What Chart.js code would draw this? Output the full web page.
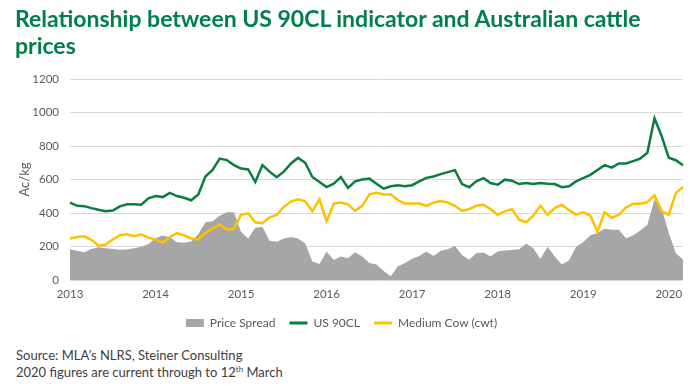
<!DOCTYPE html>
<html>
<head>
<meta charset="utf-8">
<script src="https://cdn.jsdelivr.net/npm/chart.js@4.4.1/dist/chart.umd.min.js"></script>
<style>
  html, body { margin: 0; padding: 0; background: #ffffff; }
  #wrap { position: relative; width: 700px; height: 390px; overflow: hidden; background:#fff; }
  #title { position: absolute; left: 15px; top: 5px; font-family: "Lato", "Liberation Sans", sans-serif; font-weight: bold; font-size: 23px; line-height: 27px; color: #00804A; white-space: nowrap; }
  #chartBox { position: absolute; left: 0; top: 0; width: 700px; height: 345px; }
  #source { position: absolute; left: 16px; top: 347px; font-family: "Lato", "Liberation Sans", sans-serif; font-size: 13px; line-height: 17px; color: #404040; }
  #source sup { font-size: 8px; line-height: 0; }
</style>
</head>
<body>
<div id="wrap">
  <div id="chartBox"><canvas id="c" width="700" height="345"></canvas></div>
  <div id="title">Relationship between US 90CL indicator and Australian cattle<br>prices</div>
  <div id="source">Source: MLA’s NLRS, Steiner Consulting<br>2020 figures are current through to 12<sup>th</sup> March</div>
</div>
<script>
// ---- data (monthly, Jan 2013 – Mar 2020), Ac/kg ----
const years = ['2013','2014','2015','2016','2017','2018','2019','2020'];
const monthsPerYear = ['01','02','03','04','05','06','07','08','09','10','11','12'];
const seriesNames = ['Price Spread', 'US 90CL', 'Medium Cow (cwt)'];

const priceSpread = [
  183,175,165,185,195,190,185,180,182,190,198,215,
  250,265,255,225,222,230,273,345,351,384,404,404,
  287,248,312,316,234,228,248,257,248,218,110,95,
  170,120,140,130,165,140,101,92,53,23,82,101,
  127,144,170,144,174,183,203,150,121,160,164,140,
  170,176,179,183,218,189,125,199,140,92,117,199,
  225,267,281,306,300,300,250,265,295,330,480,430,
  280,160,122
];
const us90CL = [
  462,443,441,429,419,410,415,440,452,452,450,487,
  501,495,520,501,491,476,511,618,657,725,716,686,
  665,660,585,686,647,614,647,696,729,700,615,585,
  555,575,614,550,589,600,605,575,545,560,566,560,
  566,589,610,618,632,644,655,573,554,589,608,579,
  569,599,593,573,579,573,579,575,573,554,560,589,
  608,628,657,686,671,696,696,710,725,760,965,860,
  730,715,685
];
const mediumCow = [
  248,257,261,240,205,212,242,267,273,261,273,253,
  242,222,257,280,267,248,242,281,306,332,302,306,
  390,398,345,339,374,388,437,468,482,470,410,482,
  350,456,462,452,413,443,511,521,511,511,476,456,
  456,456,443,462,472,462,443,413,423,443,449,423,
  390,410,423,360,345,384,443,390,429,449,417,390,
  404,384,287,404,371,390,433,455,455,465,505,410,
  390,520,555
];

// category labels (YYYY-MM)
const labels = [];
years.forEach(y => monthsPerYear.forEach(m => labels.push(y + '-' + m)));
labels.length = us90CL.length;

const colGray = '#A6A6A6', colGreen = '#0B7D3E', colYellow = '#FFC000';
const fam = 'Lato, "Liberation Sans", sans-serif';
const tickFont = { family: fam, size: 11.5 };

new Chart(document.getElementById('c'), {
  type: 'line',
  data: {
    labels: labels,
    datasets: [
      { label: seriesNames[0], data: priceSpread, fill: 'origin', backgroundColor: colGray,
        borderColor: colGray, borderWidth: 0, pointRadius: 0, tension: 0, order: 3 },
      { label: seriesNames[1], data: us90CL, fill: false, borderColor: colGreen, backgroundColor: colGreen,
        borderWidth: 2.5, pointRadius: 0, tension: 0, order: 2 },
      { label: seriesNames[2], data: mediumCow, fill: false, borderColor: colYellow, backgroundColor: colYellow,
        borderWidth: 2.5, pointRadius: 0, tension: 0, order: 1 }
    ]
  },
  options: {
    responsive: false,
    animation: false,
    devicePixelRatio: 1,
    layout: { padding: { top: 79, left: 0, right: 17, bottom: 6 } },
    plugins: {
      title: { display: false },
      tooltip: { enabled: false },
      legend: {
        display: true,
        position: 'bottom',
        labels: {
          color: '#595959',
          font: { family: fam, size: 12 },
          usePointStyle: true,
          pointStyleWidth: 18,
          boxHeight: 8,
          padding: 14,
          generateLabels: function(chart) {
            return chart.data.datasets.map((ds, i) => ({
              text: ds.label,
              datasetIndex: i,
              fillStyle: i === 0 ? colGray : ds.borderColor,
              strokeStyle: i === 0 ? colGray : ds.borderColor,
              lineWidth: i === 0 ? 0 : 3,
              pointStyle: i === 0 ? 'rect' : 'line',
              hidden: false,
              fontColor: '#595959'
            }));
          }
        }
      }
    },
    scales: {
      x: {
        type: 'category',
        grid: { display: false, drawTicks: false },
        border: { display: false },
        ticks: {
          autoSkip: false, maxRotation: 0, minRotation: 0, padding: 7,
          color: '#595959', font: tickFont,
          callback: function(val) {
            const l = this.getLabelForValue(val);
            return l.endsWith('-01') ? l.slice(0, 4) : null;
          }
        },
        afterFit: function(s) { s.height = 23; }
      },
      y: {
        min: 0, max: 1200,
        grid: { color: '#D9D9D9', lineWidth: 1, drawTicks: false },
        border: { display: false },
        ticks: { stepSize: 200, padding: 11, color: '#595959', font: tickFont,
                 callback: v => String(v) },
        title: { display: true, text: 'Ac/kg', color: '#595959',
                 font: { family: fam, size: 13 },
                 padding: { top: 17, bottom: 0 } },
        afterFit: function(s) { s.width = 70; }
      }
    }
  }
});
</script>
</body>
</html>
